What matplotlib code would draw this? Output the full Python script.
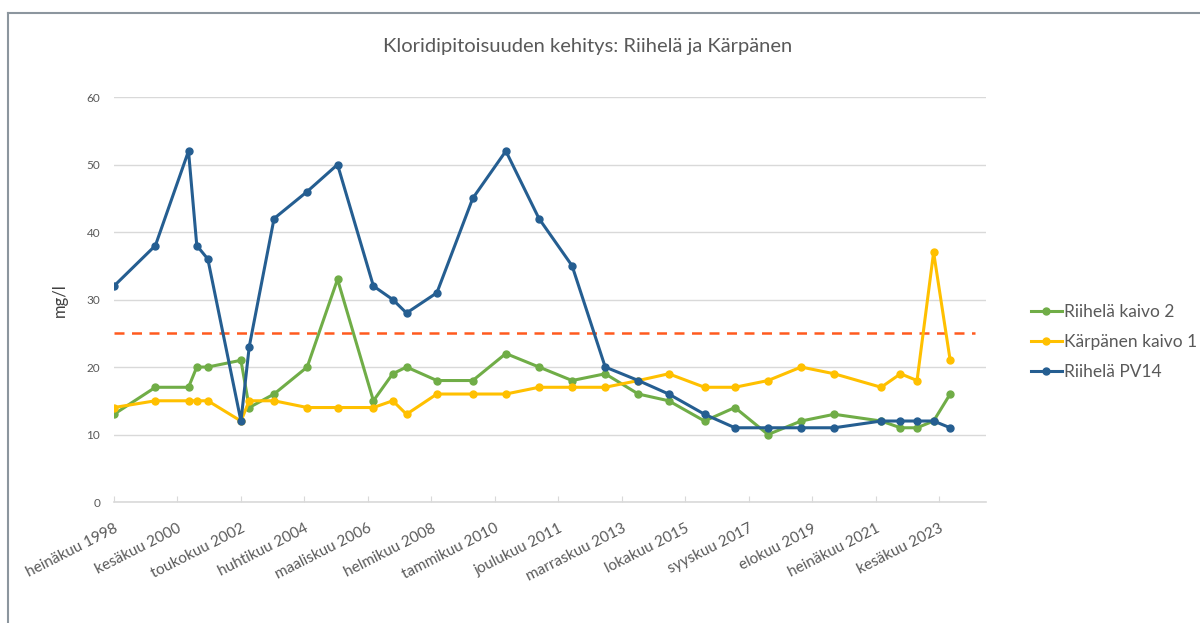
import matplotlib
matplotlib.use('Agg')
import matplotlib.pyplot as plt
from matplotlib.lines import Line2D

plt.rcParams['font.family'] = ['Lato', 'DejaVu Sans']

# sampling dates (year-month), shared by all three series
dates = ['1998-07', '1999-10', '2000-10', '2001-01', '2001-05', '2002-05',
         '2002-08', '2003-05', '2004-05', '2005-04', '2006-05', '2006-12',
         '2007-05', '2008-04', '2009-05', '2010-05', '2011-05', '2012-05',
         '2013-05', '2014-05', '2015-04', '2016-05', '2017-04', '2018-04',
         '2019-04', '2020-04', '2021-09', '2022-04', '2022-10', '2023-04',
         '2023-10']

riihela_kaivo2 = [13, 17, 17, 20, 20, 21, 14, 16, 20, 33, 15, 19, 20, 18, 18,
                  22, 20, 18, 19, 16, 15, 12, 14, 10, 12, 13, 12, 11, 11, 12, 16]
karpanen_kaivo1 = [14, 15, 15, 15, 15, 12, 15, 15, 14, 14, 14, 15, 13, 16, 16,
                   16, 17, 17, 17, 18, 19, 17, 17, 18, 20, 19, 17, 19, 18, 37, 21]
riihela_pv14 = [32, 38, 52, 38, 36, 12, 23, 42, 46, 50, 32, 30, 28, 31, 45,
                52, 42, 35, 20, 18, 16, 13, 11, 11, 11, 11, 12, 12, 12, 12, 11]

limit_value = 25

tick_dates = ['1998-07', '2000-06', '2002-05', '2004-04', '2006-03', '2008-02',
              '2010-01', '2011-12', '2013-11', '2015-10', '2017-09', '2019-08',
              '2021-07', '2023-06']
tick_labels = ['heinäkuu 1998', 'kesäkuu 2000', 'toukokuu 2002', 'huhtikuu 2004',
               'maaliskuu 2006', 'helmikuu 2008', 'tammikuu 2010', 'joulukuu 2011',
               'marraskuu 2013', 'lokakuu 2015', 'syyskuu 2017', 'elokuu 2019',
               'heinäkuu 2021', 'kesäkuu 2023']


def months(d):
    y, m = d.split('-')
    return (int(y) - 1998) * 12 + int(m) - 7


x = [months(d) for d in dates]
xt = [months(d) for d in tick_dates]

txt = '#595959'
fig = plt.figure(figsize=(12, 6.23), dpi=100)
ax = fig.add_axes([0.095, 0.1942, 0.7267, 0.650])

ax.plot(x, riihela_kaivo2, color='#70AD47', lw=2.2, marker='o', ms=5, label='Riihelä kaivo 2', zorder=3)
ax.plot(x, karpanen_kaivo1, color='#FFC000', lw=2.2, marker='o', ms=5, label='Kärpänen kaivo 1', zorder=3)
ax.plot(x, riihela_pv14, color='#255E91', lw=2.2, marker='o', ms=5, label='Riihelä PV14', zorder=4)

ax.plot([0, 312], [limit_value, limit_value], color='#FF5A1F', lw=1.8, ls=(0, (4, 3)), zorder=2)

ax.set_xlim(0, 316)
ax.set_ylim(0, 60)
ax.set_yticks(range(0, 61, 10))
ax.set_xticks(xt)
ax.set_xticklabels(tick_labels, rotation=27, ha='right', va='top', rotation_mode='anchor')

ax.grid(axis='y', color='#D9D9D9', lw=1)
ax.set_axisbelow(True)
for s in ['top', 'right', 'left']:
    ax.spines[s].set_visible(False)
ax.spines['bottom'].set_color('#D9D9D9')
ax.spines['bottom'].set_linewidth(1.2)
ax.tick_params(axis='y', length=0, pad=10, labelsize=8.5, labelcolor=txt)
ax.tick_params(axis='x', direction='in', length=4, color='#D9D9D9', pad=14, labelsize=11, labelcolor=txt)

fig.text(0.49, 0.9246, 'Kloridipitoisuuden kehitys: Riihelä ja Kärpänen',
         ha='center', va='center', fontsize=14.5, color=txt)
fig.text(0.05, 0.518, 'mg/l', rotation=90, ha='center', va='center', fontsize=12, color='#404040')

fig.legend(loc='center left', bbox_to_anchor=(0.853, 0.451), frameon=False,
           fontsize=12.5, labelcolor=txt, handlelength=1.8, handletextpad=0.1,
           labelspacing=0.82, borderaxespad=0)

# chart border (only top and left are visible in the crop)
fig.add_artist(Line2D([8 / 1200, 1], [1 - 13 / 623, 1 - 13 / 623], color='#8C969E', lw=1.5))
fig.add_artist(Line2D([8 / 1200, 8 / 1200], [0, 1 - 13 / 623], color='#8C969E', lw=1.5))

fig.savefig('out.png', dpi=100)
